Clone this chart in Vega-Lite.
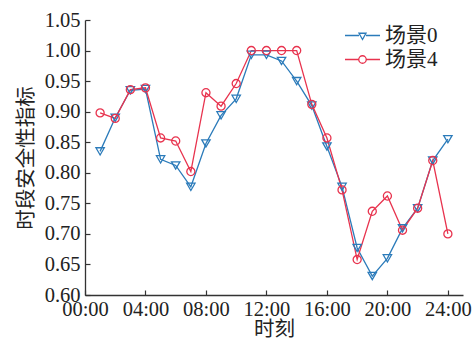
{
  "$schema": "https://vega.github.io/schema/vega-lite/v6.json",
  "width": 378,
  "height": 275,
  "autosize": {"type": "none"},
  "padding": {"left": 85, "top": 20, "right": 11, "bottom": 47},
  "background": "white",
  "config": {
    "font": "Liberation Serif",
    "view": {"stroke": null},
    "axis": {
      "grid": false,
      "domainColor": "#333333",
      "domainWidth": 1.3,
      "tickColor": "#333333",
      "tickWidth": 1.2,
      "tickSize": -5,
      "labelFont": "Liberation Serif",
      "labelFontSize": 20.5,
      "labelColor": "#222222",
      "titleFont": "Liberation Serif, Noto Sans CJK SC",
      "titleFontSize": 20.5,
      "titleFontWeight": "normal",
      "titleColor": "#222222"
    },
    "legend": {
      "orient": "none",
      "legendX": 267,
      "legendY": 5,
      "title": null,
      "padding": 0,
      "symbolSize": 100,
      "symbolStrokeWidth": 1.3,
      "symbolFillColor": "transparent",
      "labelOffset": 12,
      "rowPadding": 2,
      "labelFont": "Liberation Serif, Noto Sans CJK SC",
      "labelFontSize": 21,
      "labelColor": "#222222"
    }
  },
  "data": {
    "values": [
      {"h": 1, "s": "场景0", "v": 0.835}, {"h": 2, "s": "场景0", "v": 0.890}, {"h": 3, "s": "场景0", "v": 0.935}, {"h": 4, "s": "场景0", "v": 0.937},
      {"h": 5, "s": "场景0", "v": 0.822}, {"h": 6, "s": "场景0", "v": 0.812}, {"h": 7, "s": "场景0", "v": 0.777}, {"h": 8, "s": "场景0", "v": 0.848},
      {"h": 9, "s": "场景0", "v": 0.894}, {"h": 10, "s": "场景0", "v": 0.921}, {"h": 11, "s": "场景0", "v": 0.993}, {"h": 12, "s": "场景0", "v": 0.993},
      {"h": 13, "s": "场景0", "v": 0.983}, {"h": 14, "s": "场景0", "v": 0.950}, {"h": 15, "s": "场景0", "v": 0.910}, {"h": 16, "s": "场景0", "v": 0.843},
      {"h": 17, "s": "场景0", "v": 0.777}, {"h": 18, "s": "场景0", "v": 0.677}, {"h": 19, "s": "场景0", "v": 0.631}, {"h": 20, "s": "场景0", "v": 0.660},
      {"h": 21, "s": "场景0", "v": 0.709}, {"h": 22, "s": "场景0", "v": 0.742}, {"h": 23, "s": "场景0", "v": 0.820}, {"h": 24, "s": "场景0", "v": 0.855},
      {"h": 1, "s": "场景4", "v": 0.898}, {"h": 2, "s": "场景4", "v": 0.889}, {"h": 3, "s": "场景4", "v": 0.936}, {"h": 4, "s": "场景4", "v": 0.939},
      {"h": 5, "s": "场景4", "v": 0.857}, {"h": 6, "s": "场景4", "v": 0.852}, {"h": 7, "s": "场景4", "v": 0.802}, {"h": 8, "s": "场景4", "v": 0.931},
      {"h": 9, "s": "场景4", "v": 0.909}, {"h": 10, "s": "场景4", "v": 0.946}, {"h": 11, "s": "场景4", "v": 1.0}, {"h": 12, "s": "场景4", "v": 1.0},
      {"h": 13, "s": "场景4", "v": 1.0}, {"h": 14, "s": "场景4", "v": 1.0}, {"h": 15, "s": "场景4", "v": 0.912}, {"h": 16, "s": "场景4", "v": 0.857},
      {"h": 17, "s": "场景4", "v": 0.772}, {"h": 18, "s": "场景4", "v": 0.658}, {"h": 19, "s": "场景4", "v": 0.737}, {"h": 20, "s": "场景4", "v": 0.762},
      {"h": 21, "s": "场景4", "v": 0.706}, {"h": 22, "s": "场景4", "v": 0.742}, {"h": 23, "s": "场景4", "v": 0.820}, {"h": 24, "s": "场景4", "v": 0.700}
    ]
  },
  "encoding": {
    "x": {
      "field": "h", "type": "quantitative",
      "scale": {"domain": [0, 25], "nice": false, "zero": false},
      "axis": {
        "values": [0, 4, 8, 12, 16, 20, 24],
        "labelExpr": "(datum.value < 10 ? '0' : '') + datum.value + ':00'",
        "title": "时刻",
        "labelPadding": 9,
        "titlePadding": 0,
        "labelFlush": false,
        "labelOverlap": false
      }
    },
    "y": {
      "field": "v", "type": "quantitative",
      "scale": {"domain": [0.6, 1.05], "nice": false, "zero": false},
      "axis": {
        "values": [0.6, 0.65, 0.7, 0.75, 0.8, 0.85, 0.9, 0.95, 1.0, 1.05],
        "format": ".2f",
        "title": "时段安全性指标",
        "labelPadding": 10,
        "titlePadding": 8,
        "labelFlush": false,
        "labelOverlap": false
      }
    }
  },
  "layer": [
    {
      "mark": {"type": "point", "filled": false, "opacity": 0},
      "encoding": {
        "color": {
          "field": "s", "type": "nominal",
          "scale": {"domain": ["场景0", "场景4"], "range": ["#2b7bba", "#e8334e"]},
          "legend": {
            "encode": {"symbols": {"update": {"opacity": {"value": 1}, "fill": {"value": "transparent"}, "size": {"value": 100}, "strokeWidth": {"value": 1.3}}}}
          }
        },
        "shape": {
          "field": "s", "type": "nominal",
          "scale": {
            "domain": ["场景0", "场景4"],
            "range": [
              "M-3.5,0H-0.7M0.7,0H3.5M-0.7,-0.45L0.7,-0.45L0,0.8Z",
              "M-3.5,0H-0.75M0.75,0H3.5M0.75,0A0.75,0.75 0 1,1 -0.75,0A0.75,0.75 0 1,1 0.75,0Z"
            ]
          },
          "legend": {
            "encode": {"symbols": {"update": {"opacity": {"value": 1}, "fill": {"value": "transparent"}, "size": {"value": 100}, "strokeWidth": {"value": 1.3}}}}
          }
        }
      }
    },
    {
      "mark": {"type": "line", "strokeWidth": 1.3},
      "encoding": {
        "color": {"field": "s", "type": "nominal", "legend": null}
      }
    },
    {
      "transform": [{"filter": "datum.s === '场景0'"}],
      "mark": {"type": "point", "shape": "triangle-down", "filled": false, "size": 70, "strokeWidth": 1.3, "opacity": 1},
      "encoding": {
        "color": {"field": "s", "type": "nominal", "legend": null}
      }
    },
    {
      "transform": [{"filter": "datum.s === '场景4'"}],
      "mark": {"type": "point", "shape": "circle", "filled": false, "size": 65, "strokeWidth": 1.3, "opacity": 1},
      "encoding": {
        "color": {"field": "s", "type": "nominal", "legend": null}
      }
    }
  ]
}
